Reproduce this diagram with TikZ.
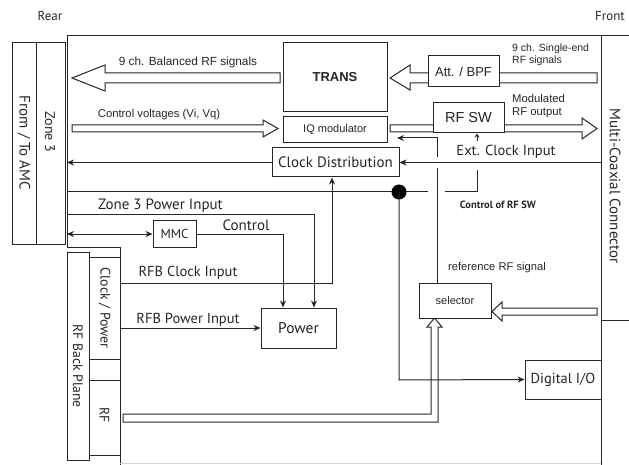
\documentclass[tikz,border=0pt]{standalone}
\usepackage{fontspec}
\setmainfont{Liberation Sans}
\newfontfamily\myr{PT Sans}
\usetikzlibrary{arrows.meta}
\begin{document}
\begin{tikzpicture}[x=1pt,y=-1pt,
  ln/.style={draw=black!85, line width=1pt},
  arr/.style={ln,-{Stealth[length=7pt,width=6pt]}},
  sarr/.style={ln,-{Stealth[length=4pt,width=5pt,open]}},
  box/.style={ln, fill=white, rectangle, inner sep=0pt, align=center, text=black!85},
  mtxt/.style={inner sep=0pt, text=black!85, font=\myr\fontsize{14.5}{16}\selectfont},
  atxt/.style={inner sep=0pt, text=black!85, font=\fontsize{10}{12}\selectfont},
  hollow/.style={ln, fill=white, line join=miter}
]
\useasboundingbox (0,0) rectangle (629,465);

% board outline
\draw[ln] (67,247) -- (67,36) -- (629,36);
\draw[ln] (67,247) -- (120,247) -- (120,465);
\draw[ln] (601,36) -- (601,465);
\draw[ln] (601,320) -- (629,320);
\draw[gray!35] (120,463) -- (601,463);

\node[mtxt, font=\myr\fontsize{13}{15}\selectfont] (rear) at (50,16) {Rear};
\node[mtxt, font=\myr\fontsize{13}{15}\selectfont, anchor=west] (front) at (595,16) {Front};
\node[mtxt, font=\myr\fontsize{15}{17}\selectfont, rotate=-90] (mcc) at (615,186) {Multi-Coaxial Connector};

% left connectors
\draw[ln] (12,43) rectangle (65,244);
\draw[ln] (36,43) -- (36,244);
\node[mtxt, font=\myr\fontsize{15}{17}\selectfont, rotate=-90] (amc) at (24,143) {From / To AMC};
\node[mtxt, font=\myr\fontsize{14}{16}\selectfont, rotate=-90] (zone) at (50,132) {Zone 3};

\draw[ln] (67,252) rectangle (89,460);
\draw[ln] (89,257) -- (120,257);
\draw[ln] (89,257) -- (89,455) -- (120,455);
\draw[ln] (89,359) -- (120,359);
\draw[ln] (89,380) -- (120,380);
\node[mtxt, font=\myr\fontsize{13.7}{16}\selectfont, rotate=-90] (rfbp) at (78,366) {RF Back Plane};
\node[mtxt, font=\myr\fontsize{13.8}{16}\selectfont, rotate=-90] (clkpw) at (104.5,308) {Clock / Power};
\node[mtxt, font=\myr\fontsize{13.8}{16}\selectfont, rotate=-90] (rflbl) at (104.5,415) {RF};

% hollow arrows
\draw[hollow] (280,73) -- (105,73) -- (105,65) -- (72,78) -- (105,91) -- (105,83) -- (280,83) -- cycle;
\draw[hollow] (597,73) -- (410,73) -- (410,65) -- (390,78) -- (410,90) -- (410,83) -- (597,83) -- cycle;
\draw[hollow] (72,125) -- (263,125) -- (263,120) -- (278,128.5) -- (263,137) -- (263,132) -- (72,132) -- cycle;
\draw[hollow] (390,125) -- (582,125) -- (582,118) -- (597,128.5) -- (582,139) -- (582,132) -- (390,132) -- cycle;
\draw[hollow] (597,308) -- (502,308) -- (502,302) -- (492,311.5) -- (502,321) -- (502,315) -- (597,315) -- cycle;
\draw[hollow] (123,414) -- (431,414) -- (431,327) -- (427,327) -- (434.5,318) -- (442,327) -- (438,327) -- (438,422) -- (123,422) -- cycle;

% boxes
\node[box, minimum width=104pt, minimum height=69pt, font=\bfseries\fontsize{13}{15}\selectfont] (trans) at (335,77.5) {TRANS};
\node[box, minimum width=71pt, minimum height=31pt, font=\fontsize{13}{15}\selectfont] (att) at (463.5,71.5) {Att. / BPF};
\node[box, minimum width=104pt, minimum height=26pt, font=\fontsize{11}{13}\selectfont] (iq) at (335,130) {IQ modulator};
\node[box, minimum width=71pt, minimum height=30pt, font=\fontsize{14.5}{16}\selectfont] (rfsw) at (468.5,118) {RF SW};
\node[box, minimum width=127pt, minimum height=29pt, font=\myr\fontsize{15}{17}\selectfont] (cd) at (335.5,162.5) {Clock Distribution};
\node[box, minimum width=43pt, minimum height=26pt, font=\myr\fontsize{13}{15}\selectfont] (mmc) at (174.5,234) {MMC};
\node[box, minimum width=75pt, minimum height=40pt, font=\myr\fontsize{15.5}{17}\selectfont] (pw) at (298.5,328) {Power};
\node[box, minimum width=72pt, minimum height=35pt, font=\fontsize{11}{13}\selectfont] (sel) at (455,300.5) {selector};
\node[box, minimum width=76pt, minimum height=39pt, font=\myr\fontsize{14.5}{16}\selectfont] (dio) at (563,379.5) {Digital I/O};

% labels
\node[atxt, font=\fontsize{11.8}{13}\selectfont] (l1) at (188,62) {9 ch. Balanced RF signals};
\node[atxt, font=\fontsize{11.3}{13}\selectfont] (l2) at (159,115) {Control voltages (Vi, Vq)};
\node[atxt, anchor=north west, align=left, font=\fontsize{10.5}{11.5}\selectfont] (l3) at (512,44) {9 ch. Single-end\\RF signals};
\node[atxt, anchor=north west, align=left, font=\fontsize{11.3}{13}\selectfont] (l4) at (512,94) {Modulated\\RF output};
\node[mtxt] (l5) at (506,152) {Ext. Clock Input};
\node[inner sep=0pt, text=black!85, font=\myr\bfseries\fontsize{10.5}{12}\selectfont] (l6) at (498,205) {Control of RF SW};
\node[atxt, font=\fontsize{11.2}{13}\selectfont] (l7) at (497,268) {reference RF signal};
\node[mtxt, font=\myr\fontsize{15}{17}\selectfont] (l8) at (160.5,206) {Zone 3 Power Input};
\node[mtxt, font=\myr\fontsize{15}{17}\selectfont] (l9) at (246,225) {Control};
\node[mtxt] (l10) at (188,273) {RFB Clock Input};
\node[mtxt] (l11) at (188,320) {RFB Power Input};

% coordinates
\coordinate (extin) at (601,162.5);
\coordinate (zcd) at (67,162.5);
\coordinate (zbus) at (67,192);
\coordinate (zmmc) at (67,234);
\coordinate (zpw) at (67,215);
\coordinate (rfbclk) at (120,283);
\coordinate (rfbpw) at (120,328);
\coordinate (refx) at (437,0);
\coordinate (ctlA) at (477,141);

% connectors
\draw[arr] (extin) -- (cd.east);
\draw[arr] (cd.west) -- (zcd);
\draw[ln] (zbus) -- (428,192);
\draw[ln] (445,192) -- (477,192) -- (477,170);
\draw[sarr] (ctlA) -- (ctlA |- rfsw.south);
\node[circle, fill=black, minimum size=15pt, inner sep=0pt] (dot) at (399,192) {};
\draw[arr] (dot.center) -- (399,380) -- (dio.west);
\draw[ln] (sel.north -| refx) -- (437,168);
\draw[arr] (437,157) -- (437,138) -- (397,138);
\draw[ln, {Stealth[length=7pt,width=6pt]}-{Stealth[length=7pt,width=6pt]}] (zmmc) -- (mmc.west);
\draw[arr] (zpw) -- (314,215) -- (pw.north -| 314,0);
\draw[arr] (mmc.east) -- (283,234) -- (pw.north -| 283,0);
\draw[arr] (rfbclk) -- (332,283) -- (cd.south -| 332,0);
\draw[arr] (rfbpw) -- (pw.west);
\end{tikzpicture}
\end{document}
